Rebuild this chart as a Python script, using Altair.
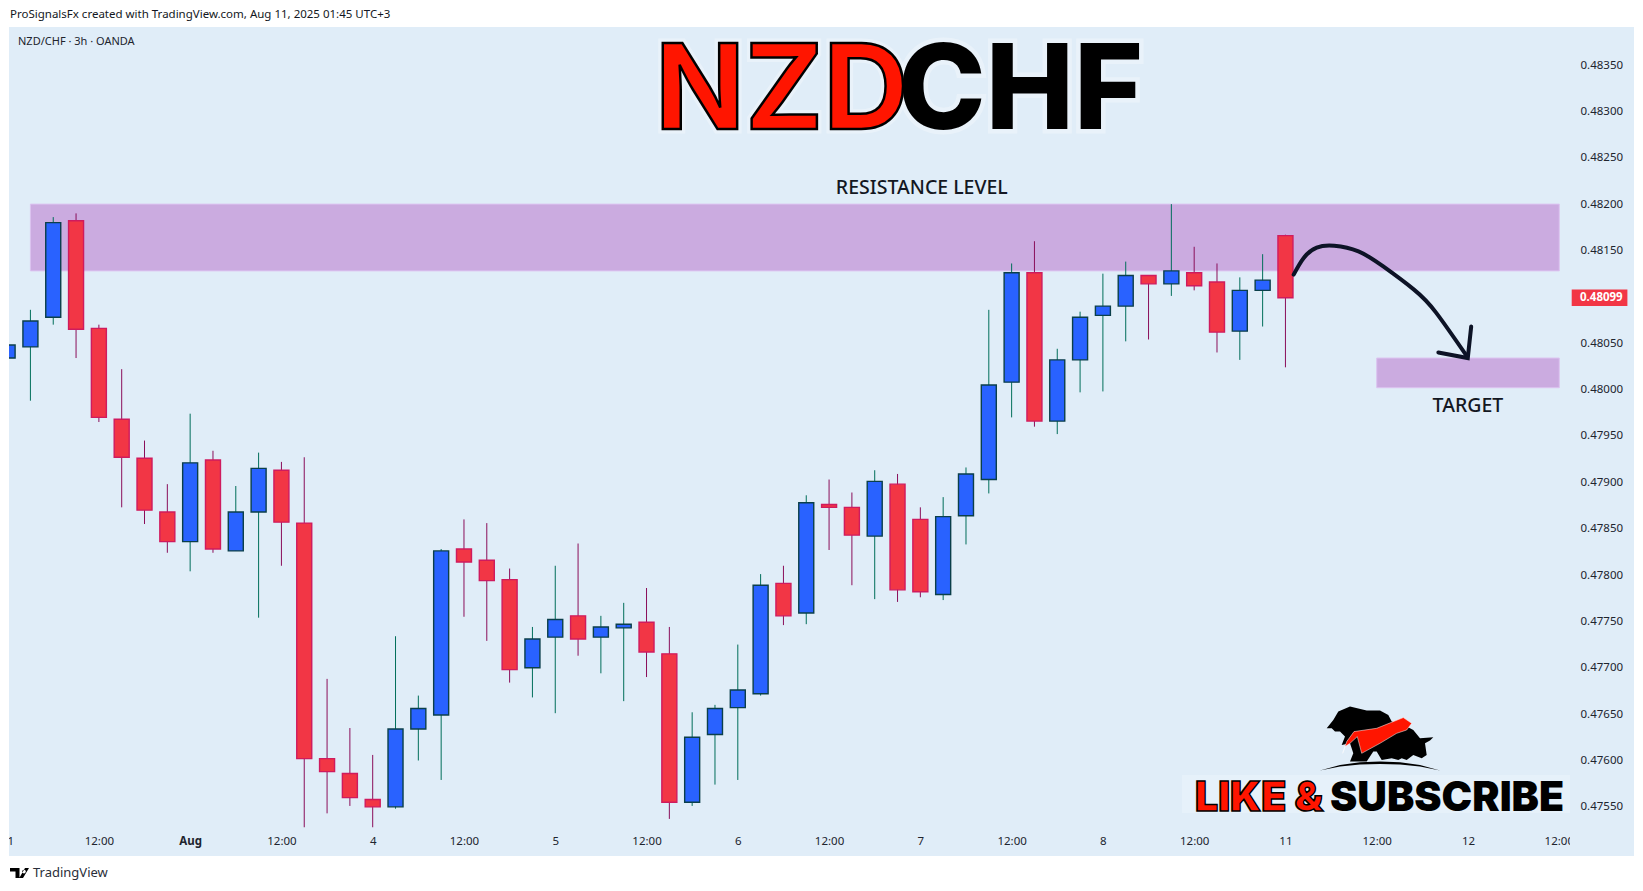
import altair as alt
import pandas as pd

# Candles, prices in 1e-5 units
opens = [48034,48046,48078,48182,48066,47968,47926,47868,47836,47924,47826,47868,47913,47856,47602,47586,47558,47550,47634,47649,
         47828,47816,47795,47700,47733,47756,47733,47743,47749,47715,47555,47628,47657,47672,47791,47759,47876,47873,47842,47898,
         47860,47779,47864,47903,48008,48126,47966,48032,48080,48090,48123,48114,48126,48116,48063,48107,48166]
highs = [48048,48086,48186,48190,48070,48022,47945,47898,47974,47934,47896,47932,47922,47927,47688,47635,47606,47734,47670,47828,
         47860,47856,47807,47744,47810,47834,47756,47770,47786,47744,47652,47660,47725,47801,47810,47886,47903,47889,47913,47909,
         47873,47884,47916,48086,48136,48160,48044,48084,48125,48138,48123,48200,48154,48136,48121,48146,48167]
lows = [48034,47988,48070,48034,47965,47873,47855,47824,47804,47824,47826,47754,47810,47528,47543,47551,47528,47548,47600,47579,
        47755,47729,47684,47668,47651,47713,47694,47664,47690,47537,47551,47574,47579,47670,47746,47747,47827,47789,47774,47771,
        47776,47773,47833,47888,47970,47960,47952,47997,47998,48052,48054,48101,48107,48040,48032,48068,48024]
closes = [48048,48074,48180,48065,47970,47927,47870,47836,47921,47828,47868,47915,47857,47602,47588,47560,47550,47634,47656,47826,
          47814,47794,47698,47731,47752,47731,47744,47747,47717,47555,47625,47656,47676,47789,47756,47878,47873,47843,47901,47784,
          47782,47863,47909,48005,48126,47966,48032,48078,48090,48123,48114,48128,48112,48062,48107,48118,48099]

# Time axis
tick_bars = [4, 8, 12, 16, 20, 24, 28, 32, 36, 40, 44, 48, 52, 56, 60, 64]
tick_labels = ["12:00","Aug","12:00","4","12:00","5","12:00","6","12:00","7","12:00","8","12:00","11","12:00","12"]
edge_bars = [0, 68]
edge_labels = ["31", "12:00"]

# Price axis (0.48100 is hidden behind the last-price tag in the reference)
price_ticks = [47550,47600,47650,47700,47750,47800,47850,47900,47950,48000,48050,48150,48200,48250,48300,48350]

# Zones: bar start, bar end, top price, bottom price
zone_x = [1, 60]
zone_x2 = [68, 68]
zone_top = [48200, 48034]
zone_bot = [48128, 48002]

# Hand-drawn arrow
curve_bar = [56.36, 56.8, 57.37, 58.14, 59.2, 60.27, 61.62, 62.6, 63.95]
curve_price = [48124, 48142, 48153, 48155, 48149, 48133, 48108, 48083, 48036]
head_bar = [64.14, 63.99, 62.7]
head_price = [48068, 48034, 48040]

SCALE = 1e-5
W, H = 1561, 829
BG = "#e0edf8"
FONT = "Noto Sans"
TXT = "#20242e"

df = pd.DataFrame({"bar": range(len(opens)),
                   "open": [v * SCALE for v in opens], "high": [v * SCALE for v in highs],
                   "low": [v * SCALE for v in lows], "close": [v * SCALE for v in closes]})
df["top"] = df[["open", "close"]].max(axis=1)
df["bot"] = df[["open", "close"]].min(axis=1)
df["dir"] = ["up" if c >= o else "down" for o, c in zip(opens, closes)]

xs = alt.Scale(domain=[0.0613, 68.47], nice=False, zero=False, padding=0)
ys = alt.Scale(domain=[0.47497, 0.48391], nice=False, zero=False)

label_list = "[" + ",".join(f"'{t}'" for t in tick_labels) + "]"
x_axis = alt.Axis(values=tick_bars, labelExpr=f"{label_list}[datum.value/4-1]", domain=False, ticks=False,
                  grid=False, labelPadding=-21, labelFont=FONT, labelFontSize=11.5, labelColor=TXT,
                  labelFontWeight={"condition": {"test": "datum.value==8", "value": "bold"}, "value": "normal"},
                  labelOverlap=False, labelBound=False, labelFlush=False, zindex=1, title=None)
y_axis = alt.Axis(orient="right", values=[v * SCALE for v in price_ticks], format=".5f", domain=False, ticks=False,
                  grid=False, labelPadding=10, labelFont=FONT, labelFontSize=11.5, labelColor=TXT,
                  labelOverlap=False, labelBound=False, zindex=1, title=None)


def XQ(f):
    return alt.X(f, type="quantitative", scale=xs, axis=x_axis)


def YQ(f):
    return alt.Y(f, type="quantitative", scale=ys, axis=y_axis)


def path(points):
    cx, cy = 690, 175
    return "M" + "L".join(f"{(x-cx)/3:.1f},{(y-cy)/3:.1f}" for x, y in points) + "Z"


beast = path([(530,145),(550,120),(565,95),(600,80),(650,92),(690,92),(715,105),(725,125),(770,140),(790,150),(810,175),
              (850,172),(840,182),(825,190),(830,225),(815,235),(790,225),(770,240),(755,235),(745,240),(725,235),(695,240),
              (680,215),(670,215),(650,245),(600,245),(610,220),(600,190),(575,195),(585,170),(570,155),(555,155),(545,145)])
swoosh = path([(578,220),(590,185),(612,155),(680,145),(760,113),(785,130),(770,150),(740,160),(690,190),(635,220),
               (622,170),(600,190),(585,200)])
ground = path([(510,272),(570,255),(630,247),(690,245),(750,247),(810,255),(870,272),(810,260),(750,254),(690,252),(630,254),(570,260)])
tv_logo = ("M-9.5,-5L0,-5L0,5L-4,5L-4,-1.5L-9.5,-1.5Z"
           "M4.5,-3.2a1.8,1.8 0 1,0 0.01,0Z"
           "M9.5,-5L3.5,5L-0.2,5L5.5,-5Z")

one = pd.DataFrame({"k": [0]})
edge_df = pd.DataFrame({"bar": edge_bars, "t": edge_labels})
zones = pd.DataFrame({"a": zone_x, "b": zone_x2, "t": [v * SCALE for v in zone_top], "c": [v * SCALE for v in zone_bot]})
curve = pd.DataFrame({"bar": curve_bar, "p": [v * SCALE for v in curve_price]})
head = pd.DataFrame({"bar": head_bar, "p": [v * SCALE for v in head_price], "o": range(len(head_bar))})


def txt(text, x, y, **kw):
    return alt.Chart(pd.DataFrame({"t": [text]})).mark_text(**kw).encode(text="t:N", x=alt.value(x), y=alt.value(y))


strip = alt.Chart(one).mark_rect(color=BG).encode(x=alt.value(W - 1), x2=alt.value(1625), y=alt.value(0), y2=alt.value(H))
glow_box = alt.Chart(one).mark_rect(color="#f0f7fc", opacity=0.4).encode(x=alt.value(1173), x2=alt.value(1561), y=alt.value(748), y2=alt.value(786))

zone_l = alt.Chart(zones).mark_rect(fill="#cbabe0", stroke="#dcc3f0", strokeWidth=1).encode(
    x=XQ("a"), x2="b:Q", y=YQ("t"), y2="c:Q")

color_dom = ["up", "down"]
wicks = alt.Chart(df).mark_rule(strokeWidth=1, clip=True).encode(
    x=XQ("bar"), y=YQ("high"), y2="low:Q",
    color=alt.Color("dir:N", scale=alt.Scale(domain=color_dom, range=["#006e5a", "#8a0e5a"]), legend=None))
bodies = alt.Chart(df).mark_bar(size=15, strokeWidth=1.4, clip=True, orient="vertical").encode(
    x=XQ("bar"), y=YQ("top"), y2="bot:Q",
    fill=alt.Fill("dir:N", scale=alt.Scale(domain=color_dom, range=["#2962ff", "#f23645"]), legend=None),
    stroke=alt.Stroke("dir:N", scale=alt.Scale(domain=color_dom, range=["#0b3f4a", "#cf1b5e"]), legend=None))

arrow = alt.Chart(curve).mark_line(color="#0d1326", strokeWidth=4, interpolate="natural", strokeCap="round").encode(
    x=XQ("bar"), y=YQ("p"))
arrow_head = alt.Chart(head).mark_line(color="#0d1326", strokeWidth=4, strokeCap="round", strokeJoin="miter").encode(
    x=XQ("bar"), y=YQ("p"), order="o:Q")

edge = alt.Chart(edge_df).mark_text(font=FONT, fontSize=11.5, color=TXT, clip=True).encode(
    x=XQ("bar"), y=alt.value(815), text="t:N")

price_box = alt.Chart(one).mark_rect(color="#f23645").encode(
    x=alt.value(1562.7), x2=alt.value(1618.4), y=alt.datum(0.48108, scale=ys, axis=y_axis), y2=alt.datum(0.48090))
price_txt = txt("0.48099", 1571, 271.3, font=FONT, fontSize=11.5, fontWeight="bold", color="white", align="left", baseline="middle")

nzd_kw = dict(font="Inter", fontSize=118, fontWeight=700, align="left", baseline="alphabetic")
chf_kw = dict(font="Inter", fontSize=118, fontWeight=800, align="left", baseline="alphabetic")
glow1 = txt("NZD", 646, 102, color="white", stroke="white", strokeWidth=9, opacity=0.3, **nzd_kw)
glow2 = txt("CHF", 889, 102, color="white", stroke="white", strokeWidth=9, opacity=0.3, **chf_kw)
nzd = txt("NZD", 646, 102, color="#ff1500", stroke="black", strokeWidth=2.5, **nzd_kw)
chf = txt("CHF", 889, 102, color="black", **chf_kw)

like_kw = dict(font="Inter", fontSize=41, fontWeight=900, align="left", baseline="alphabetic")
like = txt("LIKE &", 1186, 784, color="#ff1500", stroke="black", strokeWidth=1.5, **like_kw)
sub = txt("SUBSCRIBE", 1321, 784, color="black", **like_kw)


def shape_layer(shape, fill, stroke=None):
    kw = dict(shape=shape, filled=True, size=4, fill=fill, opacity=1)
    if stroke:
        kw.update(stroke=stroke, strokeWidth=0.5)
    else:
        kw.update(strokeWidth=0)
    return alt.Chart(one).mark_point(**kw).encode(x=alt.value(1371), y=alt.value(711.3))


logo = shape_layer(beast, "black") + shape_layer(swoosh, "#ff1500", "white") + shape_layer(ground, "black")
footer_logo = alt.Chart(one).mark_point(shape=tv_logo, filled=True, size=4, fill="black", strokeWidth=0, opacity=1).encode(
    x=alt.value(10.5), y=alt.value(846))

chart = alt.layer(
    strip, zone_l, wicks, bodies, arrow, arrow_head, edge, price_box, price_txt,
    glow_box, logo, like, sub,
    glow1, glow2, nzd, chf,
    txt("RESISTANCE LEVEL", 912.8, 161.2, font=FONT, fontSize=19.5, fontWeight=500, color="#131722", align="center", baseline="middle"),
    txt("TARGET", 1458.9, 378.5, font=FONT, fontSize=19.5, fontWeight=500, color="#131722", align="center", baseline="middle"),
    txt("NZD/CHF · 3h · OANDA", 9, 15, font=FONT, fontSize=11, color=TXT, align="left", baseline="middle"),
    txt("ProSignalsFx created with TradingView.com, Aug 11, 2025 01:45 UTC+3", 1, -12.3, font=FONT, fontSize=11.5, color="#131722", align="left", baseline="middle"),
    footer_logo,
    txt("TradingView", 24, 846, font=FONT, fontSize=13, color="#2a2e39", align="left", baseline="middle"),
).properties(
    width=W, height=H,
    autosize=alt.AutoSizeParams(type="none"),
    padding={"left": 1, "top": 19, "right": 64, "bottom": 26},
    background="white",
).configure_view(fill=BG, stroke=None)

chart.save("out.html", embed_options={"renderer": "svg", "actions": False})
